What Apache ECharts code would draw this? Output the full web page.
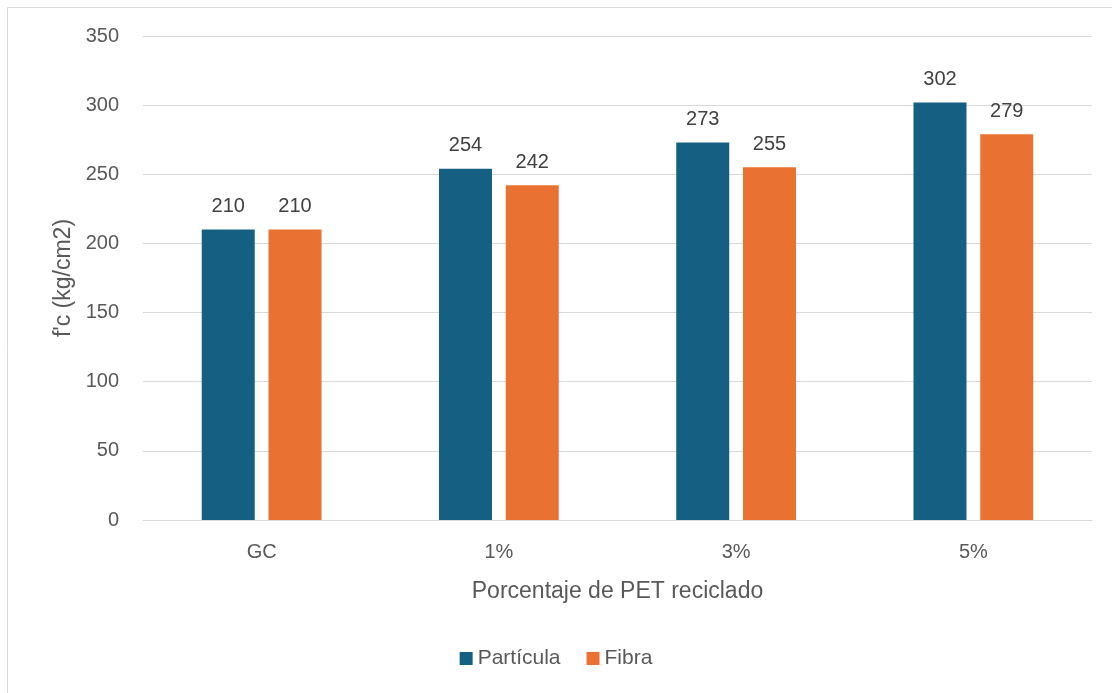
<!DOCTYPE html>
<html>
<head>
<meta charset="utf-8">
<script src="https://cdn.jsdelivr.net/npm/echarts@6/dist/echarts.min.js"></script>
<style>
  html, body { margin: 0; padding: 0; background: #fff; }
  #chart { width: 1112px; height: 693px; }
</style>
</head>
<body>
<div id="chart"></div>
<script>
// Resistencia a compresión por porcentaje de PET reciclado
const categories = ['GC', '1%', '3%', '5%'];
const particula = [210, 254, 273, 302];
const fibra = [210, 242, 255, 279];
const seriesNames = ['Partícula', 'Fibra'];

const FONT = 'Liberation Sans, Arial, sans-serif';
const chart = echarts.init(document.getElementById('chart'), null, { renderer: 'canvas' });

const labelStyle = {
  show: true,
  position: 'top',
  distance: 13,
  color: '#404040',
  fontSize: 20,
  fontFamily: FONT
};

chart.setOption({
  animation: false,
  backgroundColor: '#ffffff',
  textStyle: { fontFamily: FONT },
  graphic: [
    {
      type: 'polyline',
      shape: { points: [[7.5, 693], [7.5, 7.5], [1112, 7.5]] },
      style: { stroke: '#d9d9d9', lineWidth: 1, fill: null }
    }
  ],
  legend: {
    bottom: 19,
    left: 'center',
    itemWidth: 13,
    itemHeight: 13,
    itemGap: 26,
    icon: 'rect',
    textStyle: { color: '#595959', fontSize: 21, fontFamily: FONT },
    data: seriesNames
  },
  grid: { left: 143, right: 20, top: 36, bottom: 173 },
  xAxis: {
    type: 'category',
    data: categories,
    name: 'Porcentaje de PET reciclado',
    nameLocation: 'middle',
    nameGap: 60,
    nameTextStyle: { color: '#595959', fontSize: 23, fontFamily: FONT },
    axisLine: { lineStyle: { color: '#d9d9d9' } },
    axisTick: { show: false },
    axisLabel: { color: '#595959', fontSize: 20, margin: 22, fontFamily: FONT }
  },
  yAxis: {
    type: 'value',
    min: 0,
    max: 350,
    interval: 50,
    name: "f'c (kg/cm2)",
    nameLocation: 'middle',
    nameGap: 66,
    nameRotate: 90,
    nameTextStyle: { color: '#595959', fontSize: 23, fontFamily: FONT },
    axisLine: { show: false },
    axisTick: { show: false },
    axisLabel: { color: '#595959', fontSize: 20, margin: 24, fontFamily: FONT },
    splitLine: { lineStyle: { color: '#d9d9d9', width: 1 } }
  },
  series: [
    {
      name: seriesNames[0],
      type: 'bar',
      data: particula,
      barWidth: 53,
      barGap: '26%',
      itemStyle: { color: '#156082' },
      label: labelStyle
    },
    {
      name: seriesNames[1],
      type: 'bar',
      data: fibra,
      barWidth: 53,
      barGap: '26%',
      itemStyle: { color: '#E97132' },
      label: labelStyle
    }
  ]
});
</script>
</body>
</html>
